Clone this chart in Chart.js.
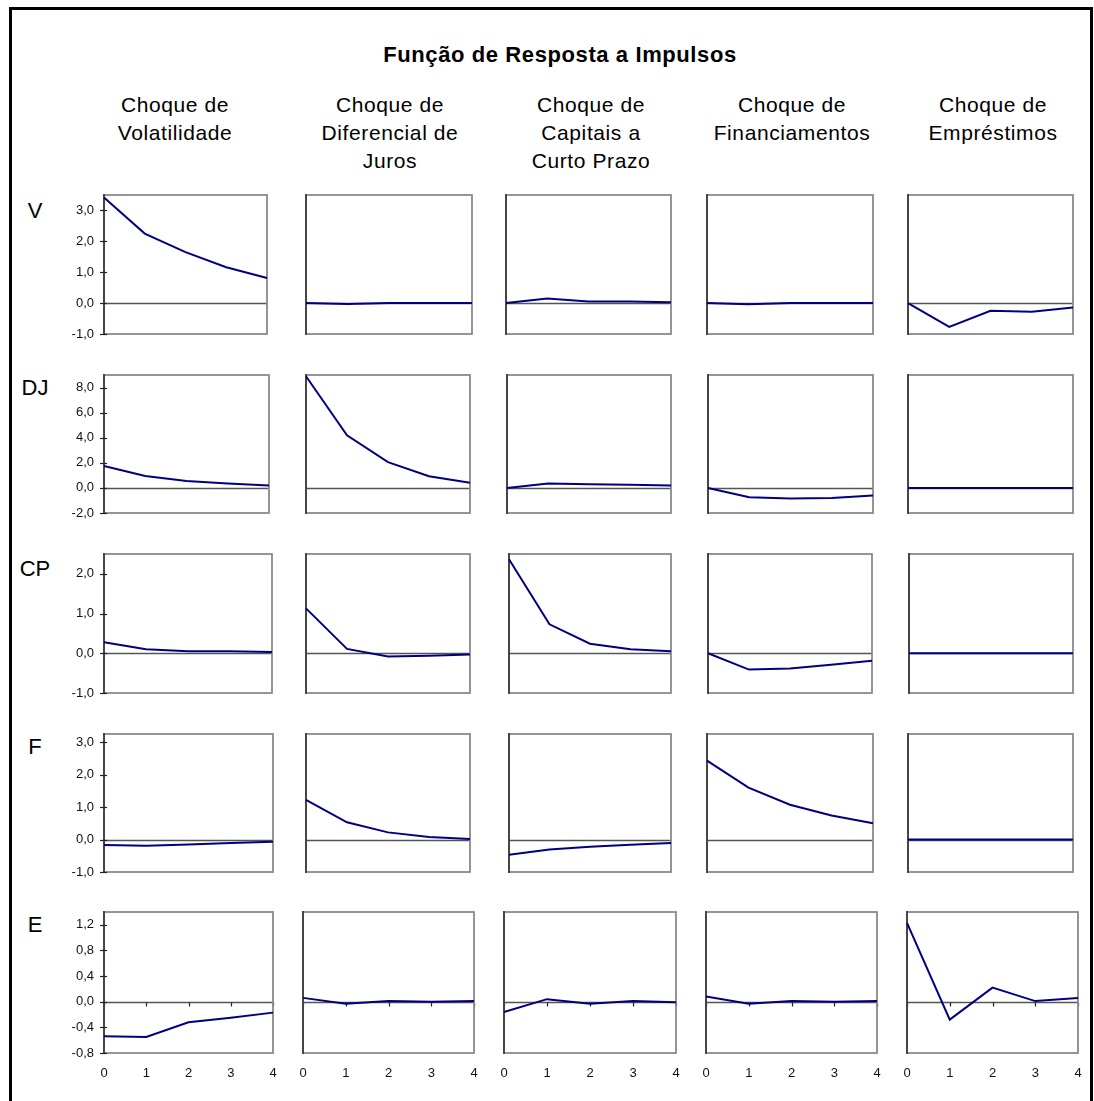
<!DOCTYPE html>
<html><head><meta charset="utf-8">
<script src="https://cdn.jsdelivr.net/npm/chart.js@4.4.1/dist/chart.umd.min.js"></script>
<style>
body{margin:0;width:1094px;height:1101px;overflow:hidden;background:#fff;font-family:"Liberation Sans",Arial,sans-serif;position:relative}
#frame{position:absolute;left:9px;top:7px;width:1084px;height:1200px;border:3px solid #000;box-sizing:border-box}
.cell{position:absolute}
.txt{position:absolute;color:#000;white-space:nowrap;text-align:center;transform:translate(-50%,-50%)}
</style></head><body>
<div id="frame"></div>
<div id="root"></div>
<script>
// ---- data ----
const title = 'Função de Resposta a Impulsos';
const shocks = ['Choque de\nVolatilidade','Choque de\nDiferencial de\nJuros','Choque de\nCapitais a\nCurto Prazo','Choque de\nFinanciamentos','Choque de\nEmpréstimos'];
const variables = ['V','DJ','CP','F','E'];
const periods = ['0','1','2','3','4'];

const ticksV  = [-1,0,1,2,3];
const ticksDJ = [-2,0,2,4,6,8];
const ticksCP = [-1,0,1,2];
const ticksF  = [-1,0,1,2,3];
const ticksE  = [-0.8,-0.4,0,0.4,0.8,1.2];
const rangeV  = [-1,3.5];
const rangeDJ = [-2,9];
const rangeCP = [-1,2.5];
const rangeF  = [-1,3.25];
const rangeE  = [-0.8,1.4];

// responses of each variable (row) to each shock (column)
const respV = [
  [3.42,2.25,1.65,1.16,0.81],
  [0,-0.03,0,0,0],
  [0,0.15,0.05,0.05,0.03],
  [0,-0.04,0,0,0],
  [0,-0.77,-0.25,-0.28,-0.14]
];
const respDJ = [
  [1.75,0.95,0.55,0.35,0.2],
  [8.9,4.2,2.05,0.93,0.41],
  [0,0.35,0.3,0.25,0.2],
  [0,-0.75,-0.85,-0.8,-0.6],
  [0,0,0,0,0]
];
const respCP = [
  [0.28,0.1,0.05,0.05,0.03],
  [1.13,0.11,-0.08,-0.06,-0.03],
  [2.37,0.73,0.24,0.1,0.05],
  [0,-0.41,-0.38,-0.29,-0.19],
  [0,0,0,0,0]
];
const respF = [
  [-0.17,-0.19,-0.15,-0.11,-0.07],
  [1.22,0.53,0.22,0.08,0.02],
  [-0.47,-0.31,-0.22,-0.16,-0.11],
  [2.43,1.6,1.07,0.74,0.5],
  [0,0,0,0,0]
];
const respE = [
  [-0.54,-0.55,-0.32,-0.25,-0.17],
  [0.06,-0.03,0.01,0,0.01],
  [-0.16,0.04,-0.03,0.01,-0.01],
  [0.08,-0.03,0.01,0,0.01],
  [1.23,-0.28,0.22,0.01,0.06]
];

const rowsData = [respV,respDJ,respCP,respF,respE];
const rowsTicks = [ticksV,ticksDJ,ticksCP,ticksF,ticksE];
const rowsRange = [rangeV,rangeDJ,rangeCP,rangeF,rangeE];

// ---- layout ----
const rowTop = [195,375,554,734,912];
const rowH   = [139,138,139,138,141];
const colL = [
  [104,306,506,707,908],
  [104,306,507,708,908],
  [104,306,509,708,909],
  [104,306,509,707,908],
  [104,303,504,706,907]
];
const colR = [
  [267,472,671,873,1073],
  [269,470,671,873,1073],
  [272,470,671,872,1073],
  [273,470,671,873,1073],
  [273,474,676,877,1078]
];
const headX = [175,390,591,792,993];
const labelX = 35;
const labelY = [211,388,569,747,925];

const root = document.getElementById('root');
function addText(txt, x, y, css){
  const d = document.createElement('div');
  d.className='txt'; d.style.left=x+'px'; d.style.top=y+'px';
  d.style.cssText += css; d.innerHTML = txt.split('\n').join('<br>');
  root.appendChild(d);
}
addText(title, 560, 55, 'font-weight:bold;font-size:22px;letter-spacing:0.6px;');
shocks.forEach((s,i)=>{
  const n = s.split('\n').length;
  addText(s, headX[i], 105 + (n-1)*14, 'font-size:21px;line-height:28px;letter-spacing:0.6px;');
});
variables.forEach((v,i)=> addText(v, labelX, labelY[i], 'font-size:22px;'));

const fmt = v => v.toFixed(1).replace('.',',');

const framePlugin = {
  id:'cellFrame',
  beforeDatasetsDraw(chart, args, opts){
    const {ctx, chartArea:a, scales:{x,y}} = chart;
    ctx.save();
    const y0 = Math.round(y.getPixelForValue(0))+0.5;
    ctx.lineWidth = 1.3; ctx.strokeStyle = '#555';
    ctx.beginPath(); ctx.moveTo(a.left,y0); ctx.lineTo(a.right,y0); ctx.stroke();
    if (opts.xTicks){
      ctx.lineWidth = 1.2; ctx.strokeStyle='#222';
      chart.data.labels.forEach((l,i)=>{
        const px = Math.round(x.getPixelForValue(i))+0.5;
        ctx.beginPath(); ctx.moveTo(px,y0); ctx.lineTo(px,y0+4); ctx.stroke();
      });
    }
    ctx.lineWidth = 1.8; ctx.strokeStyle = '#8a8a8a';
    ctx.strokeRect(a.left, a.top, a.right-a.left, a.bottom-a.top);
    ctx.strokeStyle = '#333'; ctx.lineWidth = 1.6;
    ctx.beginPath(); ctx.moveTo(a.left,a.top-1); ctx.lineTo(a.left,a.bottom+1); ctx.stroke();
    if (opts.yTicks){
      ctx.lineWidth = 1.2; ctx.strokeStyle='#222';
      opts.yTicks.forEach(v=>{
        const py = Math.round(y.getPixelForValue(v))+0.5;
        ctx.beginPath(); ctx.moveTo(a.left-4,py); ctx.lineTo(a.left+3,py); ctx.stroke();
      });
    }
    ctx.restore();
  }
};

const PT=22, PR=22;
for (let r=0;r<5;r++){
  for (let c=0;c<5;c++){
    const first = c===0, last = r===4;
    const Wy = first ? 64 : 22;
    const Hx = last ? 34 : 22;
    const L = colL[r][c], W = colR[r][c]-colL[r][c], T = rowTop[r], H = rowH[r];
    const div = document.createElement('div');
    div.className='cell';
    const cw = Wy+W+PR, ch = PT+H+Hx;
    div.style.left=(L-Wy)+'px'; div.style.top=(T-PT)+'px';
    div.style.width=cw+'px'; div.style.height=ch+'px';
    const cv = document.createElement('canvas');
    cv.width=cw; cv.height=ch; cv.style.width=cw+'px'; cv.style.height=ch+'px';
    div.appendChild(cv); root.appendChild(div);
    const tks = rowsTicks[r];
    new Chart(cv, {
      type:'line',
      data:{labels:periods, datasets:[{data:rowsData[r][c], borderColor:'#000080', borderWidth:2, pointRadius:0, tension:0, fill:false}]},
      options:{
        responsive:false, animation:false, devicePixelRatio:1,
        layout:{padding:{top:PT,right:PR,left:0,bottom:0}},
        plugins:{legend:{display:false}, tooltip:{enabled:false}, cellFrame:{yTicks: first?tks:null, xTicks:last}},
        scales:{
          x:{type:'category', offset:false, display:true,
             grid:{display:false, drawTicks:false}, border:{display:false},
             ticks:{display:last, color:'#111', font:{family:'Liberation Sans', size:13}, padding:13, maxRotation:0, autoSkip:false},
             afterFit:s=>{s.height=Hx;}},
          y:{type:'linear', min:rowsRange[r][0], max:rowsRange[r][1], display:true,
             grid:{display:false, drawTicks:false}, border:{display:false},
             afterBuildTicks:s=>{s.ticks = tks.map(v=>({value:v}));},
             ticks:{display:first, color:'#111', font:{family:'Liberation Sans', size:13}, padding:10, callback:v=>fmt(v)},
             afterFit:s=>{s.width=Wy;}}
        }
      },
      plugins:[framePlugin]
    });
  }
}
</script>
</body></html>
